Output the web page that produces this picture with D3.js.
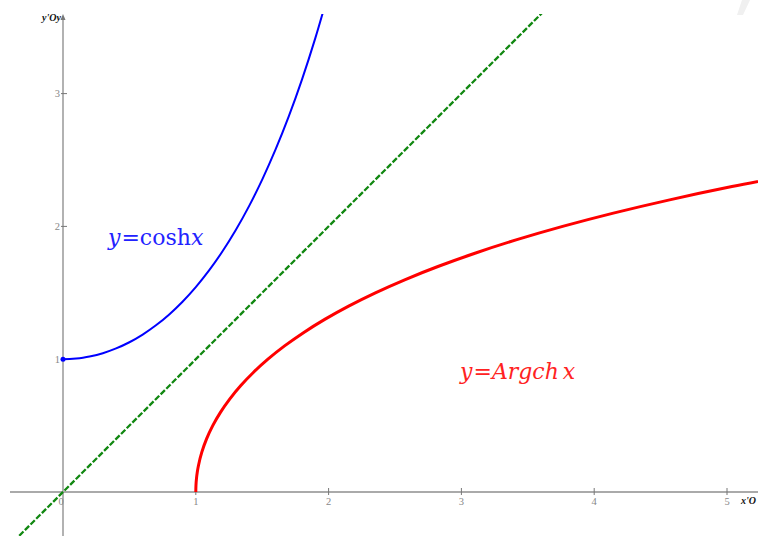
<!DOCTYPE html>
<html><head><meta charset="utf-8">
<script src="https://cdn.jsdelivr.net/npm/d3@7"></script>
<style>html,body{margin:0;padding:0;background:#fff;}svg{display:block;}</style>
</head><body>
<svg id="c" width="758" height="536"></svg>
<script>
const tVals = [0,0.05,0.1,0.15,0.2,0.3,0.4,0.5,0.6,0.7,0.8,0.9,1,1.1,1.2,1.3,1.4,1.5,1.6,1.7,1.8,1.9,2.0,2.1,2.2,2.3,2.4];
const coshVals = [1,1.00125,1.005,1.0113,1.0201,1.0453,1.0811,1.1276,1.1855,1.2552,1.3374,1.4331,1.5431,1.6685,1.8107,1.9709,2.1509,2.3524,2.5775,2.8283,3.1075,3.4177,3.7622,4.1443,4.5679,5.0372,5.5569];
const diagX = [-0.5, 4];
const xTicks = [0,1,2,3,4,5];
const yTicks = [1,2,3];

const svg = d3.select("#c");
const x = d3.scaleLinear().domain([0,5]).range([63,727]);
const y = d3.scaleLinear().domain([0,3]).range([492,93.6]);

// faint watermark
svg.append("polygon").attr("points","737,15 743,15 750,0 742,0").attr("fill","#f0f0f0");

svg.append("defs").append("clipPath").attr("id","clip")
  .append("rect").attr("x",0).attr("y",14).attr("width",758).attr("height",522);

// axes
const axisCol = "#aaaaaa";
svg.append("line").attr("x1",10).attr("x2",758).attr("y1",y(0)).attr("y2",y(0)).attr("stroke",axisCol).attr("stroke-width",1.8);
svg.append("line").attr("x1",x(0)).attr("x2",x(0)).attr("y1",536).attr("y2",17).attr("stroke",axisCol).attr("stroke-width",1.8);
svg.append("path").attr("d",`M${x(0)-2.5},${20} L${x(0)},${14} L${x(0)+2.5},${20} Z`).attr("fill","#777");

const tickCol = "#888";
xTicks.forEach(v=>{
  if(v!==0) svg.append("line").attr("x1",x(v)).attr("x2",x(v)).attr("y1",y(0)-4).attr("y2",y(0)+3).attr("stroke","#777").attr("stroke-width",1);
  svg.append("text").attr("x",v===0?x(v)-2:x(v)).attr("y",y(0)+13).attr("text-anchor","middle")
    .attr("font-family","Liberation Serif, serif").attr("font-size",10.5).attr("fill",tickCol).text(v);
});
yTicks.forEach(v=>{
  svg.append("line").attr("x1",x(0)-2).attr("x2",x(0)+4).attr("y1",y(v)).attr("y2",y(v)).attr("stroke","#777").attr("stroke-width",1);
  svg.append("text").attr("x",x(0)-3).attr("y",y(v)+3.5).attr("text-anchor","end")
    .attr("font-family","Liberation Serif, serif").attr("font-size",10.5).attr("fill",tickCol).text(v);
});
svg.append("text").attr("x",61).attr("y",21).attr("text-anchor","end").attr("font-family","Liberation Serif, serif")
  .attr("font-style","italic").attr("font-weight","bold").attr("font-size",10).attr("fill","#111").text("y'Oy");
svg.append("text").attr("x",756).attr("y",504).attr("text-anchor","end").attr("font-family","Liberation Serif, serif")
  .attr("font-style","italic").attr("font-weight","bold").attr("font-size",10).attr("fill","#111").text("x'O");

const g = svg.append("g").attr("clip-path","url(#clip)");
const line = d3.line().x(d=>x(d[0])).y(d=>y(d[1])).curve(d3.curveCatmullRom);

// y = x dashed
g.append("path").datum(diagX.map(v=>[v,v])).attr("d",line).attr("fill","none")
  .attr("stroke","#118811").attr("stroke-width",2.3).attr("stroke-dasharray","6,2");

// cosh
const coshPts = tVals.map((t,i)=>[t,coshVals[i]]).filter(d=>d[0]<=2.0);
g.append("path").datum(coshPts).attr("d",line).attr("fill","none").attr("stroke","#0000ff").attr("stroke-width",2);
// argch (mirror)
const argPts = tVals.map((t,i)=>[coshVals[i],t]);
g.append("path").datum(argPts).attr("d",line).attr("fill","none").attr("stroke","#ff0000").attr("stroke-width",3);

svg.append("circle").attr("cx",x(0)).attr("cy",y(1)).attr("r",2.5).attr("fill","#0000ff");

// labels
const t1 = svg.append("text").attr("x",108).attr("y",245).attr("font-family","DejaVu Serif, serif").attr("font-size",22).attr("fill","#2222ff");
t1.append("tspan").attr("font-style","italic").text("y");
t1.append("tspan").attr("dx",1).text("=cosh");
t1.append("tspan").attr("font-style","italic").text("x");
const t2 = svg.append("text").attr("x",460).attr("y",379).attr("font-family","DejaVu Serif, serif").attr("font-size",22).attr("fill","#ff2222");
t2.append("tspan").attr("font-style","italic").text("y");
t2.append("tspan").attr("dx",1).text("=");
t2.append("tspan").attr("font-style","italic").text("Argch");
t2.append("tspan").attr("font-style","italic").attr("dx",4).text("x");
</script>
</body></html>
